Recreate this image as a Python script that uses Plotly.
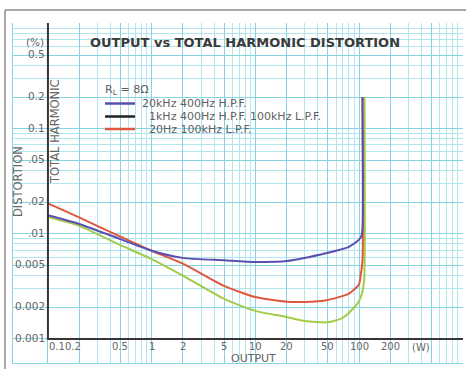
import math
import plotly.graph_objects as go

# ---------------- data ----------------
series_names = ["20kHz 400Hz H.P.F.", "1kHz 400Hz H.P.F. 100kHz L.P.F.", "20Hz 100kHz L.P.F."]

blue_power = [0.1, 0.2, 0.5, 1, 2, 5, 10, 20, 50, 80, 100, 105, 108, 108]
blue_thd = [0.0150, 0.0124, 0.0089, 0.0069, 0.0059, 0.0056, 0.0054, 0.0055, 0.0066, 0.0075, 0.0088, 0.0094, 0.0110, 0.2]

black_power = [0.1, 0.2, 0.5, 1, 2, 5, 10, 20, 30, 50, 70, 90, 100, 107, 112, 113]
black_thd = [0.0144, 0.0119, 0.0078, 0.00575, 0.0040, 0.0024, 0.00185, 0.00162, 0.00148, 0.00144, 0.00159, 0.0020, 0.0023, 0.0027, 0.0036, 0.2]

red_power = [0.1, 0.2, 0.5, 1, 2, 5, 10, 20, 30, 50, 80, 100, 104, 108, 108]
red_thd = [0.0195, 0.0143, 0.0094, 0.0069, 0.0052, 0.0032, 0.0025, 0.00226, 0.00225, 0.00235, 0.0027, 0.0033, 0.0041, 0.0055, 0.2]

x_tick_vals = [0.1, 0.2, 0.5, 1, 2, 5, 10, 20, 50, 100, 200]
x_tick_text = ["0.1", "0.2", "0.5", "1", "2", "5", "10", "20", "50", "100", "200"]
y_tick_vals = [0.5, 0.2, 0.1, 0.05, 0.02, 0.01, 0.005, 0.002, 0.001]
y_tick_text = ["0.5", "0.2", "0.1", ".05", ".02", ".01", "0.005", "0.002", "0.001"]

# ---------------- style ----------------
FONT = "DejaVu Sans"
TXT = "#666666"
GRID_MAJOR = "#86d3e3"
GRID_MINOR = "#b3e5ef"
AXIS = "#3a3338"
curve_colors = ["#5a4fae", "#a2cc48", "#e0573f"]
legend_colors = ["#5a4fae", "#222222", "#e0573f"]

x_grid_major = [k * 10 ** e for e in range(-1, 3) for k in (1, 2, 5)] + [1000]
x_grid_minor = [k * 10 ** e for e in range(-1, 3) for k in (3, 4, 6, 7, 8, 9)]
y_grid_major = [k * 10 ** e for e in range(-3, 0) for k in (1, 2, 5)] + [1]
y_grid_minor = [k * 10 ** e for e in range(-3, 0) for k in (3, 4, 6, 7, 8, 9)]

fig = go.Figure()
for name, px_, py_, col in [
    (series_names[1], black_power, black_thd, curve_colors[1]),
    (series_names[2], red_power, red_thd, curve_colors[2]),
    (series_names[0], blue_power, blue_thd, curve_colors[0]),
]:
    fig.add_trace(go.Scatter(x=px_, y=py_, mode="lines", name=name, showlegend=False,
                             line=dict(color=col, width=2, shape="spline", smoothing=0.6)))

W, H = 466, 369
L, R, T, B = 13, 3, 23, 6
pw, ph = W - L - R, H - T - B


def px2paper_x(p):
    return (p - L) / pw


def px2paper_y(p):
    return (H - B - p) / ph


fig.update_layout(
    width=W, height=H,
    margin=dict(l=L, r=R, t=T, b=B),
    paper_bgcolor="white", plot_bgcolor="white",
    showlegend=False,
    font=dict(family=FONT, color=TXT, size=11),
    xaxis=dict(type="log", range=[-1.337, 3.003], tickmode="array", tickvals=x_grid_major,
               showticklabels=False, ticks="", showgrid=True, gridcolor=GRID_MAJOR, gridwidth=1,
               minor=dict(tickmode="array", tickvals=x_grid_minor, showgrid=True, gridcolor=GRID_MINOR, gridwidth=1, ticks=""),
               showline=True, linecolor=GRID_MAJOR, linewidth=1, zeroline=False, fixedrange=True),
    yaxis=dict(type="log", range=[-3.229, 0.005], tickmode="array", tickvals=y_grid_major,
               showticklabels=False, ticks="", showgrid=True, gridcolor=GRID_MAJOR, gridwidth=1,
               minor=dict(tickmode="array", tickvals=y_grid_minor, showgrid=True, gridcolor=GRID_MINOR, gridwidth=1, ticks=""),
               showline=True, linecolor=GRID_MAJOR, linewidth=1, zeroline=False, fixedrange=True),
)

shapes = []
# main axes lines at 0.1 W and 0.001 %
shapes.append(dict(type="line", xref="x", yref="paper", x0=x_tick_vals[0], x1=x_tick_vals[0],
                   y0=px2paper_y(340), y1=1, line=dict(color=AXIS, width=2)))
shapes.append(dict(type="line", xref="paper", yref="y", x0=px2paper_x(47), x1=1,
                   y0=y_tick_vals[-1], y1=y_tick_vals[-1], line=dict(color=AXIS, width=2)))
# outer frame (left and top)
shapes.append(dict(type="line", xref="paper", yref="paper", x0=px2paper_x(5), x1=px2paper_x(5),
                   y0=px2paper_y(369), y1=px2paper_y(10), line=dict(color="#8c8c8c", width=1.5)))
shapes.append(dict(type="line", xref="paper", yref="paper", x0=px2paper_x(5), x1=px2paper_x(466),
                   y0=px2paper_y(10), y1=px2paper_y(10), line=dict(color="#8c8c8c", width=1.5)))

annotations = []
# legend
legend_y = [103.5, 116.5, 129]
legend_tx = [140, 147, 147]
for i in range(3):
    shapes.append(dict(type="line", xref="paper", yref="paper", x0=px2paper_x(105), x1=px2paper_x(135),
                       y0=px2paper_y(legend_y[i]), y1=px2paper_y(legend_y[i]),
                       line=dict(color=legend_colors[i], width=2.5)))
    annotations.append(dict(xref="paper", yref="paper", x=px2paper_x(legend_tx[i]), y=px2paper_y(legend_y[i]),
                            text=series_names[i], showarrow=False, xanchor="left", yanchor="middle",
                            font=dict(size=11, color="#5f5f5f")))
annotations.append(dict(xref="paper", yref="paper", x=px2paper_x(103), y=px2paper_y(90),
                        text="R<sub>L</sub> = 8Ω", showarrow=False, xanchor="left", yanchor="middle",
                        font=dict(size=11, color="#5f5f5f")))

# y tick labels
for v, t in zip(y_tick_vals, y_tick_text):
    annotations.append(dict(xref="x", yref="y", x=math.log10(x_tick_vals[0]), y=math.log10(v), text=t,
                            showarrow=False, xanchor="right", yanchor="middle", xshift=-1, yshift=1,
                            font=dict(size=10.5, color=TXT)))
# x tick labels
for i, (v, t) in enumerate(zip(x_tick_vals, x_tick_text)):
    anchor = "left" if i == 0 else ("right" if i == 1 else "center")
    annotations.append(dict(xref="x", yref="y", x=math.log10(v), y=math.log10(y_tick_vals[-1]), text=t,
                            showarrow=False, xanchor=anchor, yanchor="middle", yshift=-8,
                            xshift=(4 if i == 1 else -1 if i == 0 else 0),
                            font=dict(size=10, color=TXT)))

annotations += [
    dict(xref="paper", yref="paper", x=px2paper_x(421), y=px2paper_y(347), text="(W)", showarrow=False,
         xanchor="center", yanchor="middle", font=dict(size=10, color=TXT)),
    dict(xref="paper", yref="paper", x=px2paper_x(253), y=px2paper_y(358.5), text="OUTPUT", showarrow=False,
         xanchor="center", yanchor="middle", font=dict(size=11, color=TXT)),
    dict(xref="paper", yref="paper", x=px2paper_x(18), y=px2paper_y(182), text="DISTORTION", showarrow=False,
         textangle=-90, xanchor="center", yanchor="middle", font=dict(size=11.5, color=TXT)),
    dict(xref="paper", yref="paper", x=px2paper_x(55), y=px2paper_y(132), text="TOTAL HARMONIC", showarrow=False,
         textangle=-90, xanchor="center", yanchor="middle", font=dict(size=11.5, color=TXT)),
    dict(xref="paper", yref="paper", x=px2paper_x(35), y=px2paper_y(42), text="(%)", showarrow=False,
         xanchor="center", yanchor="middle", font=dict(size=10.5, color=TXT)),
    dict(xref="paper", yref="paper", x=px2paper_x(245), y=px2paper_y(42),
         text="<b>OUTPUT vs TOTAL HARMONIC DISTORTION</b>", showarrow=False,
         xanchor="center", yanchor="middle", font=dict(size=13, color="#3a3a3a")),
]

fig.update_layout(shapes=shapes, annotations=annotations)
fig.write_html("out.html", config={"displayModeBar": False},
               post_script="document.body.style.margin='0';document.body.style.overflow='hidden';")
